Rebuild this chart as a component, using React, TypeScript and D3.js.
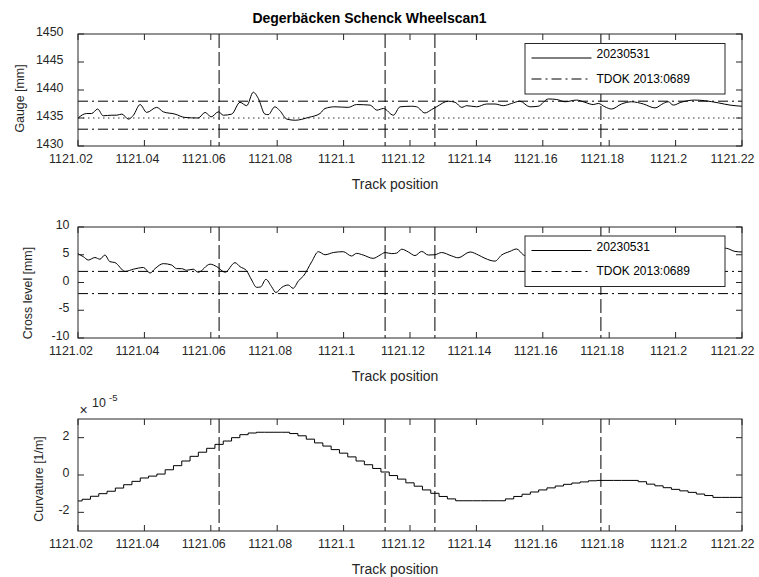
import React from 'react';
import * as d3 from 'd3';

// ---------- data ----------
const xTicks = [1121.02, 1121.04, 1121.06, 1121.08, 1121.1, 1121.12, 1121.14, 1121.16, 1121.18, 1121.2, 1121.22];
const gaugeTicks = [1430, 1435, 1440, 1445, 1450];
const crossTicks = [-10, -5, 0, 5, 10];
const curvTicks = [-2, 0, 2]; // ×10^-5
const markPositions = [1121.0625, 1121.1125, 1121.1275, 1121.1775];
const gaugeLimits = [1433, 1438];
const gaugeNominal = 1435;
const crossLimits = [-2, 2];
const legendLabels = ['20230531', 'TDOK 2013:0689'];

const gaugeData: [number, number][] = [
  [1121.0200, 1435.0], [1121.0226, 1435.8], [1121.0241, 1435.8], [1121.0259, 1436.6], [1121.0276, 1435.4],
  [1121.0302, 1435.5], [1121.0317, 1435.5], [1121.0332, 1435.7], [1121.0352, 1434.8], [1121.0367, 1435.5],
  [1121.0387, 1437.4], [1121.0407, 1436.0], [1121.0437, 1436.9], [1121.0457, 1436.1], [1121.0492, 1435.7],
  [1121.0522, 1435.1], [1121.0562, 1435.0], [1121.0583, 1436.0], [1121.0601, 1435.2], [1121.0623, 1436.1],
  [1121.0638, 1435.5], [1121.0663, 1435.7], [1121.0688, 1437.8], [1121.0708, 1437.2], [1121.0728, 1439.6],
  [1121.0743, 1438.5], [1121.0763, 1435.7], [1121.0773, 1435.6], [1121.0793, 1437.0], [1121.0808, 1436.3],
  [1121.0829, 1434.8], [1121.0854, 1434.6], [1121.0894, 1435.1], [1121.0929, 1435.8], [1121.0944, 1436.7],
  [1121.0974, 1437.0], [1121.1014, 1436.9], [1121.1039, 1437.4], [1121.1080, 1437.3], [1121.1100, 1436.4],
  [1121.1120, 1436.7], [1121.1150, 1435.5], [1121.1170, 1437.0], [1121.1205, 1437.1], [1121.1220, 1437.0],
  [1121.1245, 1435.9], [1121.1265, 1436.5], [1121.1280, 1437.0], [1121.1315, 1438.0], [1121.1336, 1437.8],
  [1121.1356, 1436.9], [1121.1371, 1437.2], [1121.1401, 1437.0], [1121.1431, 1437.5], [1121.1456, 1437.5],
  [1121.1481, 1437.2], [1121.1506, 1437.6], [1121.1531, 1438.0], [1121.1561, 1437.0], [1121.1586, 1437.1],
  [1121.1617, 1438.4], [1121.1642, 1438.3], [1121.1667, 1437.9], [1121.1702, 1438.2], [1121.1727, 1437.8],
  [1121.1752, 1437.4], [1121.1767, 1437.6], [1121.1787, 1437.0], [1121.1807, 1436.6], [1121.1837, 1437.5],
  [1121.1867, 1437.9], [1121.1903, 1437.5], [1121.1938, 1436.8], [1121.1963, 1437.6], [1121.1978, 1437.9],
  [1121.1993, 1437.3], [1121.2016, 1437.8], [1121.2057, 1438.2], [1121.2087, 1438.1], [1121.2129, 1437.7],
  [1121.2164, 1437.3], [1121.2200, 1437.1],
];

const crossData: [number, number][] = [
  [1121.0200, 5.2], [1121.0216, 4.65], [1121.0231, 4.05], [1121.0251, 4.5], [1121.0266, 4.2],
  [1121.0281, 4.95], [1121.0296, 3.75], [1121.0311, 3.6], [1121.0342, 2.0], [1121.0367, 2.4],
  [1121.0397, 2.7], [1121.0417, 1.7], [1121.0432, 2.5], [1121.0457, 3.4], [1121.0482, 3.15],
  [1121.0497, 2.5], [1121.0512, 2.5], [1121.0527, 2.2], [1121.0547, 2.4], [1121.0562, 1.85],
  [1121.0598, 3.3], [1121.0618, 2.85], [1121.0643, 1.85], [1121.0673, 3.57], [1121.0688, 2.85],
  [1121.0708, 2.1], [1121.0723, 0.45], [1121.0738, -0.87], [1121.0750, -0.8], [1121.0766, 0.57],
  [1121.0783, -0.75], [1121.0796, -1.8], [1121.0814, -0.87], [1121.0833, -0.45], [1121.0848, -1.05],
  [1121.0864, 0.3], [1121.0879, 1.17], [1121.0904, 3.75], [1121.0924, 5.55], [1121.0944, 5.0],
  [1121.0969, 5.4], [1121.0999, 5.55], [1121.1024, 4.77], [1121.1039, 5.25], [1121.1059, 4.95],
  [1121.1089, 4.35], [1121.1110, 4.95], [1121.1125, 5.4], [1121.1145, 5.2], [1121.1160, 5.3],
  [1121.1175, 6.0], [1121.1195, 5.5], [1121.1215, 4.85], [1121.1235, 5.6], [1121.1255, 4.95],
  [1121.1275, 5.0], [1121.1295, 5.4], [1121.1325, 4.8], [1121.1345, 4.45], [1121.1381, 5.5],
  [1121.1406, 4.95], [1121.1426, 4.35], [1121.1456, 3.85], [1121.1476, 4.95], [1121.1501, 5.6],
  [1121.1521, 6.04], [1121.1541, 5.0], [1121.1561, 4.5], [1121.1607, 5.2], [1121.1652, 4.8],
  [1121.1697, 5.4], [1121.1742, 5.0], [1121.1787, 4.6], [1121.1833, 5.3], [1121.1893, 5.8],
  [1121.1953, 5.2], [1121.2013, 5.6], [1121.2073, 6.0], [1121.2119, 6.3], [1121.2154, 6.15],
  [1121.2179, 5.6], [1121.2200, 5.5],
];

// curvature (×10^-5 1/m), sampled every 0.0025 from 1121.02
const curvStart = 1121.02;
const curvStep = 0.0025;
const curvValues = [
  -1.39, -1.30, -1.14, -1.00, -0.87, -0.70, -0.52, -0.34, -0.16, -0.06,
  0.05, 0.28, 0.50, 0.75, 1.00, 1.22, 1.43, 1.64, 1.82, 2.00,
  2.16, 2.25, 2.29, 2.29, 2.29, 2.29, 2.22, 2.10, 1.92, 1.72,
  1.55, 1.36, 1.17, 0.97, 0.75, 0.55, 0.35, 0.16, -0.03, -0.22,
  -0.42, -0.60, -0.80, -0.98, -1.15, -1.28, -1.38, -1.38, -1.38, -1.38,
  -1.38, -1.38, -1.28, -1.15, -1.03, -0.91, -0.80, -0.69, -0.59, -0.50,
  -0.43, -0.37, -0.31, -0.29, -0.29, -0.29, -0.29, -0.29, -0.36, -0.49,
  -0.58, -0.68, -0.77, -0.85, -0.93, -1.02, -1.10, -1.20, -1.20, -1.20,
  -1.20,
];

// ---------- layout ----------
const W = 759, H = 577;
const X0 = 78, X1 = 742;
const FONT = '"Liberation Sans", Arial, Helvetica, sans-serif';
const AX = '#262626';
const x = d3.scaleLinear().domain([1121.02, 1121.22]).range([X0, X1]);
const fmtX = d3.format('.2~f');

type PanelProps = {
  id: string;
  top: number;
  bottom: number;
  domain: [number, number];
  yTicks: number[];
  yLabel: string;
  yLabelX: number;
  yLabelY: number;
  tickRight: number;
  children: (y: d3.ScaleLinear<number, number>) => React.ReactNode;
  legendTop?: number;
};

function Legend({ top }: { top: number }) {
  const lx = 525, lw = 200, lh = 50.5;
  return (
    <g>
      <rect x={lx} y={top} width={lw} height={lh} fill="white" stroke={AX} strokeWidth={1} />
      <line x1={531.5} x2={591.5} y1={top + 14.5} y2={top + 14.5} stroke="black" strokeWidth={1} />
      <text x={596.5} y={top + 14.8} fontSize={12} fontFamily={FONT} fill="black">{legendLabels[0]}</text>
      <line x1={531.5} x2={591.5} y1={top + 35.5} y2={top + 35.5} stroke="black" strokeWidth={1} strokeDasharray="10,4,2,4" />
      <text x={596.5} y={top + 39.4} fontSize={12} fontFamily={FONT} fill="black">{legendLabels[1]}</text>
    </g>
  );
}

function Panel(p: PanelProps) {
  const y = d3.scaleLinear().domain(p.domain).range([p.bottom, p.top]);
  const tl = 6;
  return (
    <g>
      <defs>
        <clipPath id={`clip-${p.id}`}>
          <rect x={X0} y={p.top} width={X1 - X0} height={p.bottom - p.top} />
        </clipPath>
      </defs>
      <g clipPath={`url(#clip-${p.id})`}>
        {markPositions.map((m, i) => (
          <line key={i} x1={x(m)} x2={x(m)} y1={p.top} y2={p.bottom} stroke="black" strokeWidth={1} strokeDasharray="14,4" />
        ))}
        {p.children(y)}
      </g>
      {xTicks.map((t, i) => (
        <g key={'xt' + i}>
          <line x1={x(t)} x2={x(t)} y1={p.bottom} y2={p.bottom - tl} stroke={AX} />
          <line x1={x(t)} x2={x(t)} y1={p.top} y2={p.top + tl} stroke={AX} />
          <text x={x(t) - (i === xTicks.length - 1 ? 9.5 : 7)} y={p.bottom + 16.5} textAnchor="middle" fontSize={12.4} fontFamily={FONT} fill={AX}>{fmtX(t)}</text>
        </g>
      ))}
      {p.yTicks.map((t, i) => (
        <g key={'yt' + i}>
          <line x1={X0} x2={X0 + tl} y1={y(t)} y2={y(t)} stroke={AX} />
          <line x1={X1} x2={X1 - tl} y1={y(t)} y2={y(t)} stroke={AX} />
          <text x={p.tickRight} y={y(t) + 2} textAnchor="end" fontSize={12.4} fontFamily={FONT} fill={AX}>{t}</text>
        </g>
      ))}
      <rect x={X0} y={p.top} width={X1 - X0} height={p.bottom - p.top} fill="none" stroke={AX} strokeWidth={1} />
      <text x={395} y={p.bottom + 43} textAnchor="middle" fontSize={14} fontFamily={FONT} fill={AX}>Track position</text>
      <text transform={`translate(${p.yLabelX},${p.yLabelY}) rotate(-90)`} textAnchor="middle" fontSize={12.4} fontFamily={FONT} fill={AX} dy="0.35em">{p.yLabel}</text>
      {p.legendTop !== undefined && <Legend top={p.legendTop} />}
    </g>
  );
}

export default function App() {
  const lineGen = (y: d3.ScaleLinear<number, number>) =>
    d3.line<[number, number]>().x(d => x(d[0])).y(d => y(d[1])).curve(d3.curveMonotoneX);
  const curvPts: [number, number][] = curvValues.map((v, i) => [curvStart + i * curvStep, v]);

  return (
    <svg width={W} height={H} style={{ position: 'absolute', left: 0, top: 0, background: 'white' }}>
      <rect x={0} y={0} width={W} height={H} fill="white" />
      <text x={369.5} y={22.5} textAnchor="middle" fontSize={14} fontWeight="bold" fontFamily={FONT} fill="black">Degerbäcken Schenck Wheelscan1</text>

      <Panel id="g" top={34} bottom={146} domain={[1430, 1450]} yTicks={gaugeTicks} yLabel="Gauge [mm]" yLabelX={19.5} yLabelY={98.5} tickRight={63.5} legendTop={43.5}>
        {(y) => (
          <g>
            {gaugeLimits.map((v, i) => (
              <line key={i} x1={X0} x2={X1} y1={y(v)} y2={y(v)} stroke="black" strokeWidth={1} strokeDasharray="10,4,2,4" />
            ))}
            <line x1={X0} x2={X1} y1={y(gaugeNominal)} y2={y(gaugeNominal)} stroke="#333" strokeWidth={1} strokeDasharray="1.5,3.5" />
            <path d={lineGen(y)(gaugeData) || ''} fill="none" stroke="black" strokeWidth={1} />
          </g>
        )}
      </Panel>

      <Panel id="c" top={227} bottom={338} domain={[-10, 10]} yTicks={crossTicks} yLabel="Cross level [mm]" yLabelX={28} yLabelY={293} tickRight={69.5} legendTop={236}>
        {(y) => (
          <g>
            {crossLimits.map((v, i) => (
              <line key={i} x1={X0} x2={X1} y1={y(v)} y2={y(v)} stroke="black" strokeWidth={1} strokeDasharray="10,4,2,4" />
            ))}
            <path d={lineGen(y)(crossData) || ''} fill="none" stroke="black" strokeWidth={1} />
          </g>
        )}
      </Panel>

      <Panel id="k" top={419} bottom={531} domain={[-3, 3]} yTicks={curvTicks} yLabel="Curvature [1/m]" yLabelX={39} yLabelY={479} tickRight={69.5}>
        {(y) => (
          <path d={d3.line<[number, number]>().x(d => x(d[0])).y(d => y(d[1])).curve(d3.curveStep)(curvPts) || ''} fill="none" stroke="black" strokeWidth={1} />
        )}
      </Panel>
      <g fontFamily={FONT} fill={AX}>
        <text x={79.5} y={415} fontSize={14}>×</text>
        <text x={92} y={407} fontSize={12.4}>10</text>
        <text x={109} y={401} fontSize={9.5}>-5</text>
      </g>
    </svg>
  );
}
